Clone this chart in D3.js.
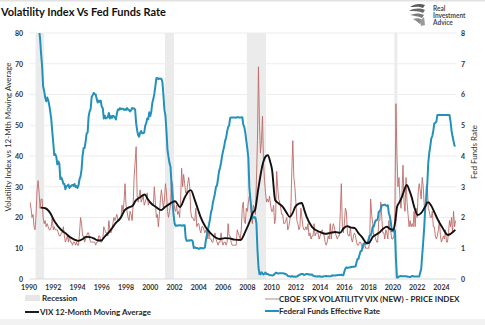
<!DOCTYPE html>
<html><head><meta charset="utf-8">
<script src="https://cdn.jsdelivr.net/npm/d3@7"></script>
<style>body{margin:0;background:#fff}svg{display:block}</style>
</head><body><svg id="c" width="485" height="325"></svg>
<script>
// ---------- DATA ----------
const startYear = 1990; // monthly series start in Jan 1990
const vixValues = [
 25,23,20,21,17,16,21,29,32,28,23,26,
 26,20,18,19,17,18,17,16,16,17,20,16,
 17,16,16,16,15,14,14,15,15,17,14,12,
 13,14,12,14,12,12,11,12,12,11,12,11,
 11,15,20,18,14,14,12,13,14,15,15,13,
 12,12,12,12,12,11,12,12,14,14,12,12,
 13,17,16,15,15,14,19,16,15,16,18,20,
 19,20,21,19,19,20,20,24,22,25,31,24,
 22,20,19,22,21,19,24,33,38,43,27,25,
 27,29,25,26,27,24,25,26,28,24,25,25,
 25,24,24,30,25,20,21,17,21,26,29,26,
 23,26,31,28,22,20,22,24,32,31,26,23,
 22,24,21,22,20,26,36,30,34,31,28,28,
 31,33,30,22,20,20,19,19,23,17,18,18,
 16,15,17,17,16,15,16,15,13,16,13,13,
 12,12,14,15,13,12,11,12,12,15,12,11,
 12,12,11,12,18,14,14,12,11,11,11,11,
 11,16,15,14,13,16,23,25,19,18,23,22,
 25,27,26,20,18,24,23,21,32,45,69,50,
 41,45,53,38,32,28,25,26,25,27,24,22,
 22,24,18,20,35,30,26,25,23,21,21,18,
 18,19,20,16,17,19,22,35,45,33,30,25,
 19,18,16,17,23,20,17,16,16,17,16,18,
 14,15,13,14,14,18,14,15,15,15,13,14,
 15,16,15,14,12,11,12,14,13,18,13,16,
 18,17,15,14,13,14,14,22,31,17,15,18,
 23,22,15,14,14,17,13,12,14,15,14,12,
 11,11,12,12,11,10,10,12,10,10,10,10,
 12,26,21,18,14,14,13,12,12,19,19,25,
 20,15,15,13,16,15,13,19,16,15,13,13,
 14,22,57,40,30,33,26,23,28,37,25,22,
 33,25,21,17,19,17,18,17,22,17,23,20,
 28,31,29,26,33,30,24,22,30,31,23,22,
 20,20,22,17,17,14,13,14,16,19,14,12,
 13,14,13,16,12,12,15,19,17,20,15,22,
 17,19
];
const fedFundsValues = [
 8.23,8.24,8.28,8.26,8.18,8.29,8.15,8.13,8.20,8.11,7.81,7.31,
 6.91,6.25,6.12,5.91,5.78,5.90,5.82,5.66,5.45,5.21,4.81,4.43,
 4.03,4.06,3.98,3.73,3.82,3.76,3.25,3.30,3.22,3.10,3.09,2.92,
 3.02,3.03,3.07,2.96,3.00,3.04,3.06,3.03,3.09,2.99,3.02,2.96,
 3.05,3.25,3.34,3.56,4.01,4.25,4.26,4.47,4.73,4.76,5.29,5.45,
 5.53,5.92,5.98,6.05,6.01,6.00,5.85,5.74,5.80,5.76,5.80,5.60,
 5.56,5.22,5.31,5.22,5.24,5.27,5.40,5.22,5.30,5.24,5.31,5.29,
 5.25,5.19,5.39,5.51,5.50,5.56,5.52,5.54,5.54,5.50,5.52,5.50,
 5.56,5.51,5.49,5.45,5.49,5.56,5.54,5.55,5.51,5.07,4.83,4.68,
 4.63,4.76,4.81,4.74,4.74,4.76,4.99,5.07,5.22,5.20,5.42,5.30,
 5.45,5.73,5.85,6.02,6.27,6.53,6.54,6.50,6.52,6.51,6.51,6.40,
 5.98,5.49,5.31,4.80,4.21,3.97,3.77,3.65,3.07,2.49,2.09,1.82,
 1.73,1.74,1.73,1.75,1.75,1.75,1.73,1.74,1.75,1.75,1.34,1.24,
 1.24,1.26,1.25,1.26,1.26,1.22,1.01,1.03,1.01,1.01,1.00,0.98,
 1.00,1.01,1.00,1.00,1.00,1.03,1.26,1.43,1.61,1.76,1.93,2.16,
 2.28,2.50,2.63,2.79,3.00,3.04,3.26,3.50,3.62,3.78,4.00,4.16,
 4.29,4.49,4.59,4.79,4.94,4.99,5.24,5.25,5.25,5.25,5.25,5.24,
 5.25,5.26,5.26,5.25,5.25,5.25,5.26,5.02,4.94,4.76,4.49,4.24,
 3.94,2.98,2.61,2.28,1.98,2.00,2.01,2.00,1.81,0.97,0.39,0.16,
 0.15,0.22,0.18,0.15,0.18,0.21,0.16,0.16,0.15,0.12,0.12,0.12,
 0.11,0.13,0.16,0.20,0.20,0.18,0.18,0.19,0.19,0.19,0.19,0.18,
 0.17,0.16,0.14,0.10,0.09,0.09,0.07,0.10,0.08,0.07,0.08,0.07,
 0.08,0.10,0.13,0.14,0.16,0.16,0.16,0.13,0.14,0.16,0.16,0.16,
 0.14,0.15,0.14,0.15,0.11,0.09,0.09,0.08,0.08,0.09,0.08,0.09,
 0.07,0.07,0.08,0.09,0.09,0.10,0.09,0.09,0.09,0.09,0.09,0.12,
 0.11,0.11,0.11,0.12,0.12,0.13,0.13,0.14,0.14,0.12,0.12,0.24,
 0.34,0.38,0.36,0.37,0.37,0.38,0.39,0.40,0.40,0.40,0.41,0.54,
 0.65,0.66,0.79,0.90,0.91,1.04,1.15,1.16,1.15,1.15,1.16,1.30,
 1.41,1.42,1.51,1.69,1.70,1.82,1.91,1.91,1.95,2.19,2.20,2.27,
 2.40,2.40,2.41,2.42,2.39,2.38,2.40,2.13,2.04,1.83,1.55,1.55,
 1.55,1.58,0.65,0.05,0.05,0.08,0.09,0.10,0.09,0.09,0.09,0.09,
 0.09,0.08,0.07,0.07,0.06,0.08,0.10,0.09,0.08,0.08,0.08,0.08,
 0.08,0.08,0.20,0.33,0.77,1.21,1.68,2.33,2.56,3.08,3.78,4.10,
 4.33,4.57,4.65,4.83,5.06,5.08,5.12,5.33,5.33,5.33,5.33,5.33,
 5.33,5.33,5.33,5.33,5.33,5.33,5.33,5.33,5.13,4.83,4.64,4.48,
 4.33,4.33
];
const maYears = [1990.92,1991.3,1991.7,1992.1,1992.6,1993.0,1993.3,1993.7,1994.0,1994.4,1994.65,1995.0,1995.3,1995.6,1995.9,
 1996.2,1996.5,1996.8,1997.1,1997.5,1997.85,1998.2,1998.5,1998.75,1999.1,1999.5,1999.75,2000.0,2000.4,2000.85,
 2001.2,2001.65,2002.0,2002.4,2002.8,2003.1,2003.3,2003.6,2003.9,2004.1,2004.5,2004.9,2005.3,2005.7,2006.1,2006.5,2006.9,
 2007.4,2007.8,2008.2,2008.4,2008.6,2008.85,2009.25,2009.5,2009.65,2009.85,2010.0,2010.25,2010.5,2010.9,2011.2,2011.45,
 2011.7,2011.9,2012.2,2012.45,2012.65,2012.85,2013.3,2013.95,2014.4,2014.8,2015.2,2015.6,2015.9,2016.2,2016.5,2016.8,
 2017.1,2017.4,2017.8,2018.0,2018.3,2018.6,2018.9,2019.2,2019.45,2019.7,2020.0,2020.15,2020.3,2020.5,2020.7,2020.9,
 2021.1,2021.3,2021.5,2021.75,2022.0,2022.3,2022.6,2022.85,2023.1,2023.4,2023.7,2024.0,2024.3,2024.5,2024.75,2025.1];
const maValues = [23.2,23.0,21.5,18.5,16.0,14.8,13.7,12.8,12.4,13.0,13.7,13.6,13.2,12.6,12.5,
 13.8,15.0,16.5,18.2,19.8,22.4,23.3,23.8,25.5,26.5,27.5,26.0,24.7,23.5,22.4,
 23.5,24.7,25.3,23.4,26.5,28.5,28.9,26.0,22.5,20.2,17.0,15.0,13.6,13.0,13.3,13.2,12.8,
 12.7,15.5,19.2,21.5,22.5,29.0,37.7,40.0,40.3,38.0,35.4,25.7,24.7,23.4,21.5,20.2,
 21.5,23.4,24.5,24.7,22.5,20.2,16.9,15.3,14.7,15.0,15.3,15.0,16.5,17.2,16.7,16.6,
 15.0,13.7,11.7,11.8,13.7,14.5,15.3,16.5,17.0,16.3,16.0,18.5,23.4,25.0,26.7,29.0,
 30.6,29.0,26.7,23.0,20.8,21.5,23.4,25.0,24.0,21.5,19.0,17.0,15.0,14.3,14.8,16.0];
const recessionStarts = [1990.5, 2001.17, 2007.92, 2020.08];
const recessionEnds   = [1991.21, 2001.92, 2009.5, 2020.33];
const xTickYears = [1990,1992,1994,1996,1998,2000,2002,2004,2006,2008,2010,2012,2014,2016,2018,2020,2022,2024];
const leftTicks = [0,10,20,30,40,50,60,70,80];
const rightTicks = [0,1,2,3,4,5,6,7,8];

// ---------- CHART ----------
const svg = d3.select("#c");
const FONT = "Lato, 'Open Sans', sans-serif";
const x = d3.scaleLinear().domain([1990, 2025.2]).range([29.5, 29.5 + 35.2 * 12.13]);
const yL = d3.scaleLinear().domain([0, 80]).range([279, 33]);
const yR = d3.scaleLinear().domain([0, 8]).range([279, 33]);
const monthT = i => startYear + (i + 0.5) / 12;

svg.append("rect").attr("x",0).attr("y",0).attr("width",485).attr("height",1.5).attr("fill","#e2e2e2");
svg.append("rect").attr("x",0).attr("y",319).attr("width",485).attr("height",6).attr("fill","#f2f2f2");

svg.append("defs").append("clipPath").attr("id","plotclip").append("rect")
  .attr("x", x.range()[0]).attr("y", yL(80)).attr("width", x.range()[1]-x.range()[0]).attr("height", yL(0)-yL(80));

// recession bands
svg.append("g").selectAll("rect").data(recessionStarts).join("rect")
  .attr("x", (d,i) => x(d)).attr("width", (d,i) => x(recessionEnds[i]) - x(d))
  .attr("y", yL(80)).attr("height", yL(0) - yL(80)).attr("fill", "#ebebeb");

// gridlines
svg.append("g").selectAll("line").data(leftTicks).join("line")
  .attr("x1", x.range()[0]).attr("x2", x.range()[1])
  .attr("y1", d => yL(d)).attr("y2", d => yL(d))
  .attr("stroke", d => d === 0 ? "#d9d9d9" : "#ededed").attr("stroke-width", 1);

const plot = svg.append("g").attr("clip-path","url(#plotclip)");
const vixLine = d3.line().x((d,i) => x(monthT(i))).y(d => yL(d));
plot.append("path").datum(vixValues).attr("d", vixLine)
  .attr("fill","none").attr("stroke","#bd6a67").attr("stroke-width",0.9).attr("stroke-linejoin","round");
const ffLine = d3.line().x((d,i) => x(monthT(i))).y(d => yR(d));
plot.append("path").datum(fedFundsValues).attr("d", ffLine)
  .attr("fill","none").attr("stroke","#2391b9").attr("stroke-width",2).attr("stroke-linejoin","round");
const maLine = d3.line().x((d,i) => x(maYears[i])).y(d => yL(d)).curve(d3.curveMonotoneX);
plot.append("path").datum(maValues).attr("d", maLine)
  .attr("fill","none").attr("stroke","#111").attr("stroke-width",1.9).attr("stroke-linejoin","round");

// axes (tick labels only, no domain)
const axL = d3.axisLeft(yL).tickValues(leftTicks).tickSize(0).tickPadding(0);
const gL = svg.append("g").attr("transform","translate(23,0)").call(axL);
const axR = d3.axisRight(yR).tickValues(rightTicks).tickSize(0).tickPadding(0);
const gR = svg.append("g").attr("transform","translate(461,0)").call(axR);
const axB = d3.axisBottom(x).tickValues(xTickYears).tickFormat(d3.format("d")).tickSize(0).tickPadding(0);
const gB = svg.append("g").attr("transform","translate(-1,285)").call(axB);
[gL,gR,gB].forEach(g => {
  g.select(".domain").remove();
  g.selectAll("text").attr("font-family", FONT).attr("font-size", 7).attr("font-weight", 700).attr("fill", "#333");
});

// titles
svg.append("text").attr("x",1).attr("y",16).text("Volatility Index Vs Fed Funds Rate")
  .attr("font-family",FONT).attr("font-size",11).attr("font-weight",700).attr("fill","#111");
svg.append("text").attr("transform","translate(11,137) rotate(-90)").attr("text-anchor","middle")
  .text("Volatility Index vs 12-Mth Moving Average")
  .attr("font-family",FONT).attr("font-size",8).attr("fill","#333");
svg.append("text").attr("transform","translate(477,152) rotate(-90)").attr("text-anchor","middle")
  .text("Fed Funds Rate")
  .attr("font-family",FONT).attr("font-size",8).attr("fill","#333");

// legend
const lg = svg.append("g").attr("font-family",FONT).attr("font-size",8).attr("font-weight",700).attr("fill","#262626");
lg.append("rect").attr("x",25).attr("y",295).attr("width",15).attr("height",6).attr("fill","#e6e6e6");
lg.append("text").attr("x",42).attr("y",301).text("Recession");
lg.append("line").attr("x1",25).attr("x2",39).attr("y1",312).attr("y2",312).attr("stroke","#111").attr("stroke-width",1.9);
lg.append("text").attr("x",40).attr("y",315).text("VIX 12-Month Moving Average");
lg.append("line").attr("x1",265).attr("x2",279).attr("y1",299).attr("y2",299).attr("stroke","#b58a88").attr("stroke-width",1);
lg.append("text").attr("x",279).attr("y",302).text("CBOE SPX VOLATILITY VIX (NEW) - PRICE INDEX");
lg.append("line").attr("x1",265).attr("x2",279).attr("y1",311).attr("y2",311).attr("stroke","#2391b9").attr("stroke-width",2);
lg.append("text").attr("x",279).attr("y",314).text("Federal Funds Effective Rate");

// logo
const logo = svg.append("g").attr("transform","translate(408,3)");
logo.append("path").attr("d","M2,4 C6,1 12,0 17,2 L15,5 C11,3 6,4 2,4 Z").attr("fill","#5a5a5a");
logo.append("path").attr("d","M1,8 C6,5 12,5 17,7 L15,10 C11,8 6,8 1,8 Z").attr("fill","#6a6a6a");
logo.append("path").attr("d","M2,12 C7,10 12,10 16,12 L14,15 C10,13 6,13 2,12 Z").attr("fill","#7a7a7a");
logo.append("path").attr("d","M5,16 C9,15 12,15 14,17 L12,21 C10,19 8,18 5,16 Z").attr("fill","#8a8a8a");
logo.append("path").attr("d","M12,18 L16,14 L17,22 L13,23 Z").attr("fill","#9a9a9a");
const lt = svg.append("g").attr("font-family",FONT).attr("font-size",6.5).attr("font-weight",700).attr("fill","#4a4a4a");
lt.append("text").attr("x",433).attr("y",11).text("Real");
lt.append("text").attr("x",433).attr("y",18).text("Investment");
lt.append("text").attr("x",433).attr("y",25).text("Advice");
</script></body></html>
